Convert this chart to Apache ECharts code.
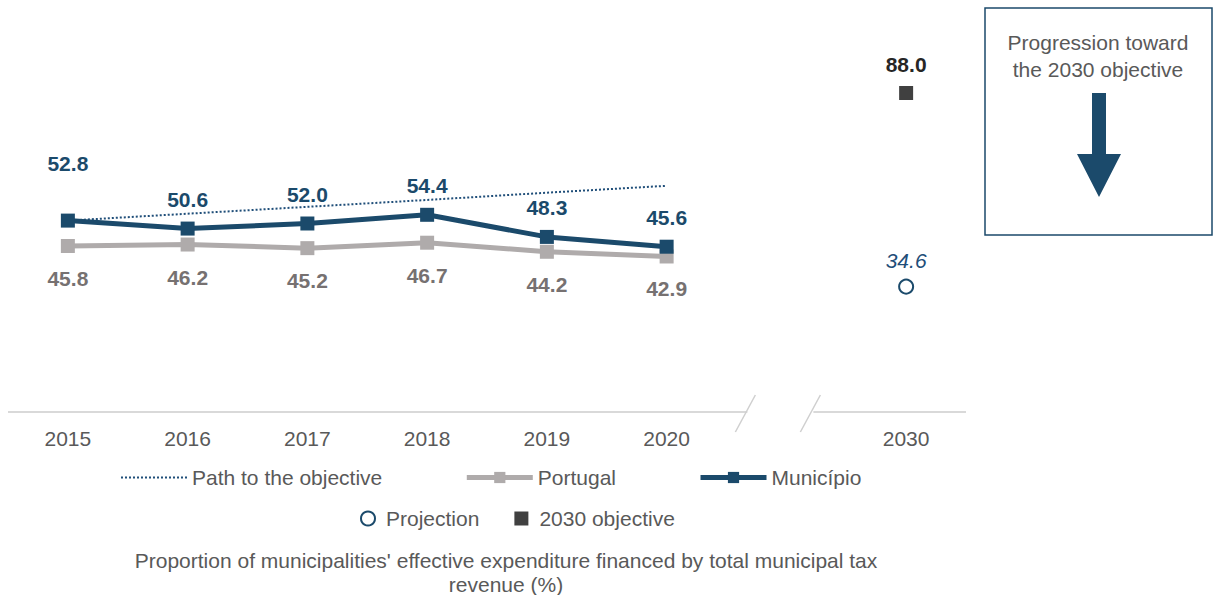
<!DOCTYPE html>
<html>
<head>
<meta charset="utf-8">
<script src="https://cdn.jsdelivr.net/npm/echarts@6/dist/echarts.min.js"></script>
<style>
html,body{margin:0;padding:0;background:#fff;}
#chart{width:1214px;height:595px;}
</style>
</head>
<body>
<div id="chart"></div>
<script>
const categories = ['2015', '2016', '2017', '2018', '2019', '2020', '', '2030'];
const pathToObjective = [52.8, 54.7, 56.6, 58.5, 60.5, 62.4, null, null];
const portugal = [45.8, 46.2, 45.2, 46.7, 44.2, 42.9, null, null];
const municipio = [52.8, 50.6, 52.0, 54.4, 48.3, 45.6, null, null];
const projection = [null, null, null, null, null, null, null, 34.6];
const objective2030 = [null, null, null, null, null, null, null, 88.0];
const chartTitle = "Proportion of municipalities' effective expenditure financed by total municipal tax\nrevenue (%)";
const boxText = 'Progression toward\nthe 2030 objective';

const FONT = "'Liberation Sans', Arial, sans-serif";
const DARK = '#1b4a6b';
const GREY = '#afabab';
const GREY_TXT = '#767171';
const TXT = '#595959';

const chart = echarts.init(document.getElementById('chart'), null, {renderer: 'svg'});

const fmt = p => p.value == null ? '' : Number(p.value).toFixed(1);

const option = {
  animation: false,
  backgroundColor: '#ffffff',
  textStyle: {fontFamily: FONT},
  grid: {left: 8, right: 248, top: 49.5, bottom: 183, containLabel: false},
  xAxis: {
    type: 'category',
    data: categories,
    boundaryGap: true,
    axisLine: {show: false},
    axisTick: {show: false},
    axisLabel: {color: TXT, fontSize: 21, fontFamily: FONT, margin: 16, interval: 0}
  },
  yAxis: {
    type: 'value', min: 0, max: 100, show: false,
    splitLine: {show: false}
  },
  legend: [
    {
      data: [
        {name: 'Path to the objective', itemStyle: {opacity: 0}, lineStyle: {width: 2, type: 'dotted'}},
        {name: 'Portugal', lineStyle: {width: 5}},
        {name: 'Município', lineStyle: {width: 5}}
      ],
      left: 115, top: 462,
      itemWidth: 66, itemHeight: 14, itemGap: 82,
      textStyle: {color: TXT, fontSize: 21, fontFamily: FONT}
    },
    {
      data: [{name: 'Projection', icon: 'emptyCircle'}, {name: '2030 objective', icon: 'rect'}],
      left: 355, top: 503,
      itemWidth: 14, itemHeight: 14, itemGap: 35,
      textStyle: {color: TXT, fontSize: 21, fontFamily: FONT, padding: [0, 0, 0, 6]}
    }
  ],
  series: [
    {
      name: 'Path to the objective', type: 'line', data: pathToObjective,
      symbol: 'none', z: 1,
      lineStyle: {color: '#1f4e79', width: 2, type: 'dotted'},
      itemStyle: {color: '#1f4e79'}
    },
    {
      name: 'Portugal', type: 'line', data: portugal,
      symbol: 'rect', symbolSize: 14, z: 2,
      lineStyle: {color: GREY, width: 5},
      itemStyle: {color: GREY},
      label: {show: true, position: 'bottom', distance: 15, formatter: fmt,
        color: GREY_TXT, fontSize: 21, fontWeight: 'bold', fontFamily: FONT}
    },
    {
      name: 'Município', type: 'line',
      data: municipio.map((v, i) => i === 0 ? {value: v, label: {distance: 40}} : v),
      symbol: 'rect', symbolSize: 14, z: 3,
      lineStyle: {color: DARK, width: 5},
      itemStyle: {color: DARK},
      label: {show: true, position: 'top', distance: 12, formatter: fmt,
        color: DARK, fontSize: 21, fontWeight: 'bold', fontFamily: FONT}
    },
    {
      name: 'Projection', type: 'scatter', data: projection,
      symbol: 'emptyCircle', symbolSize: 14,
      itemStyle: {color: DARK, borderColor: DARK, borderWidth: 3, opacity: 1},
      label: {show: true, position: 'top', distance: 8, formatter: fmt,
        color: '#1f4e79', fontSize: 21, fontStyle: 'italic', fontFamily: FONT}
    },
    {
      name: '2030 objective', type: 'scatter', data: objective2030,
      symbol: 'rect', symbolSize: 14,
      itemStyle: {color: '#404040', opacity: 1},
      label: {show: true, position: 'top', distance: 11, formatter: fmt,
        color: '#262626', fontSize: 21, fontWeight: 'bold', fontFamily: FONT}
    }
  ]
};
chart.setOption(option);

// Decorative elements: axis line with break marks, info box, caption
const y0 = chart.convertToPixel({yAxisIndex: 0}, 0);
const xGap = chart.convertToPixel({xAxisIndex: 0}, 6);
const gridLeft = 8, gridRight = 1214 - 248;
const AX = '#d9d9d9';
chart.setOption({
  graphic: [
    {type: 'line', shape: {x1: gridLeft, y1: y0, x2: xGap - 39, y2: y0}, style: {stroke: AX, lineWidth: 2}, silent: true},
    {type: 'line', shape: {x1: xGap + 27, y1: y0, x2: gridRight, y2: y0}, style: {stroke: AX, lineWidth: 2}, silent: true},
    {type: 'line', shape: {x1: xGap - 31, y1: y0 - 17, x2: xGap - 51, y2: y0 + 20}, style: {stroke: '#cfcfcf', lineWidth: 1.5}, silent: true},
    {type: 'line', shape: {x1: xGap + 34, y1: y0 - 17, x2: xGap + 14, y2: y0 + 20}, style: {stroke: '#cfcfcf', lineWidth: 1.5}, silent: true},
    {type: 'rect', shape: {x: 985, y: 8, width: 227, height: 227}, style: {fill: '#fff', stroke: DARK, lineWidth: 1.5}, silent: true},
    {type: 'text', x: 1098, y: 29, style: {text: boxText, fill: TXT, font: '21px ' + FONT, align: 'center', verticalAlign: 'top', lineHeight: 27}, silent: true},
    {type: 'polygon', shape: {points: [[1092, 93], [1106, 93], [1106, 154], [1121, 154], [1099, 197], [1077, 154], [1092, 154]]}, style: {fill: DARK}, silent: true},
    {type: 'text', x: 506, y: 548, style: {text: chartTitle, fill: TXT, font: '21px ' + FONT, align: 'center', verticalAlign: 'top', lineHeight: 24}, silent: true}
  ]
});
</script>
</body>
</html>
